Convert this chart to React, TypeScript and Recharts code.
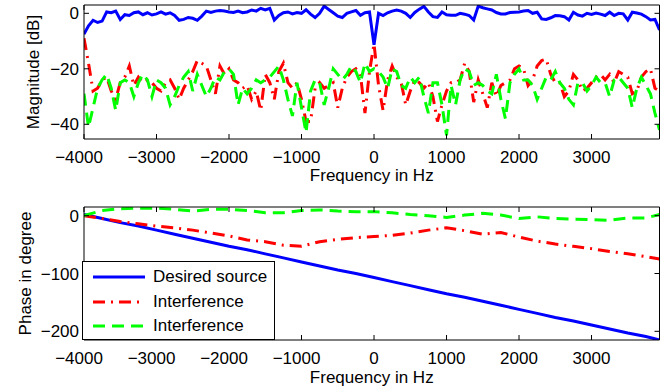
import { LineChart, Line, XAxis, YAxis, Legend } from 'recharts';

const FONT = '"Liberation Sans", Arial, Helvetica, sans-serif';

// FFT bins: 128 bins, fs = 8 kHz
const binStartHz = -4000;
const binStepHz = 62.5;

const magDesired = [
  -7.5, -4.5, -2.5, -3.3, -2.8, 0.5, 0.2, 0.8, -2.2, -0.5,
  -0.8, 0.2, 0.5, -0.5, 0.2, -0.6, -0.2, 0.5, -0.3, 0.2,
  -0.8, -2.5, -2.2, -1.5, -1.8, -2.5, -1.0, 0.8, 0.3, 0.8,
  1.0, 0.8, 0.5, 0.3, 0.8, 0.2, 0.5, 1.2, 0.8, 1.8,
  1.2, 1.8, -2.4, -0.8, 0.2, 0.5, -0.2, 0.3, 0.0, 1.3,
  -0.3, -1.5, 0.0, 2.6, 1.4, 0.2, -1.0, -1.5, 0.0, 0.5,
  1.0, -0.7, 0.2, 0.5, -11.3, 0.0, -0.8, 0.2, 0.8, 1.2,
  0.8, 0.0, -1.5, 0.3, 1.5, 2.5, 0.5, -1.2, -1.5, 0.5,
  -0.5, -0.7, -0.7, 0.0, -0.3, -0.8, -2.4, 2.6, 2.0, 1.6,
  1.2, 0.3, -0.2, -0.2, 0.3, 0.4, 0.5, 0.8, 1.0, 0.0,
  0.4, -2.0, -2.2, -1.6, -0.8, -0.9, -1.2, -2.4, 0.4, -0.6,
  -1.0, 0.0, -0.4, 0.1, -0.3, -0.8, 0.4, -0.8, 0.0, -0.2,
  -2.4, 0.4, 0.1, -0.3, -1.2, -2.4, -2.2, -6.0,
];

const magInterfA = [
  -9, -18, -28, -27, -24, -23, -28, -31, -25, -23,
  -19, -26, -23, -25, -24, -25, -27, -28, -25, -24,
  -27, -31, -27, -24, -21, -17, -18, -19, -24, -29,
  -19, -22, -20, -24, -25, -27, -26, -31, -28, -35,
  -22, -25, -31, -21, -18, -25, -27, -25, -31, -39,
  -39, -27, -25, -27, -26, -25, -34, -27, -23, -21,
  -20, -22, -36, -21, -11, -26, -35, -24, -19, -23,
  -25, -33, -28, -24, -25, -27, -25, -30, -39, -33,
  -28, -25, -25, -24, -18, -21, -32, -24, -29, -34,
  -25, -30, -26, -25, -24, -20, -19, -20, -26, -24,
  -19, -17, -16.5, -22, -25, -25, -30, -28, -22, -24,
  -28, -27, -25, -23, -22, -24, -22, -25, -21, -22,
  -23, -29, -28, -23, -21, -20, -27, -28,
];

const magInterfB = [
  -29, -41, -34, -27, -24, -22, -27, -35, -25, -24,
  -25, -30, -25, -22, -24, -30, -24, -25, -27, -33,
  -30, -26, -23, -21, -28, -22, -26, -30, -27, -23,
  -24, -21, -20, -22, -33, -27, -29, -27, -24, -25,
  -24, -23, -21, -19, -24, -31, -37, -25, -34, -43,
  -28, -24, -25, -33, -27, -20, -22, -24, -22, -19,
  -21, -25, -18, -21, -20, -21, -23, -27, -20, -21,
  -26, -27, -23, -25, -23, -30, -36, -25, -25, -33,
  -44, -26, -33, -24, -20, -21, -26, -25, -26, -28,
  -29, -22, -31, -38, -25, -22, -20, -24, -24, -26,
  -31, -27, -23, -24, -21, -25, -27, -31, -33, -25,
  -25, -28, -26, -23, -25, -25, -30, -24, -23, -25,
  -27, -34, -27, -23, -26, -29, -36, -42,
];

const phaseFreqs = [
  -4000, -3750, -3500, -3250, -3000, -2750, -2500, -2250, -2000, -1750, -1500,
  -1250, -1000, -750, -500, -250, 0, 250, 500, 750, 1000, 1250,
  1500, 1750, 2000, 2250, 2500, 2750, 3000, 3250, 3500, 3750, 3937.5,
];
const phaseDesired = [
  2, -5, -12, -18, -25, -32, -39, -46, -53, -59, -66,
  -73, -80, -87, -94, -100, -107, -114, -121, -128, -135, -141,
  -148, -155, -162, -169, -176, -182, -189, -196, -203, -209, -215,
];
const phaseInterfA = [
  0, -5, -10, -14, -18, -21, -25, -30, -35, -42, -45,
  -51, -53, -45, -41, -38, -36, -34, -30, -25, -21, -26,
  -32, -29, -37, -44, -49, -53, -57, -62, -66, -71, -75,
];
const phaseInterfB = [
  0, 9, 12, 13, 13, 11, 8, 11, 11, 9, 5,
  5, 9, 10, 8, 7, 7, 5, 2, 0, -3, 1,
  4, 1, -5, -2, -5, -6, -7, -8, -4, -4, 2,
];

const freqTicks = [-4000, -3000, -2000, -1000, 0, 1000, 2000, 3000];
const magTicks = [-40, -20, 0];
const phaseTicks = [-200, -100, 0];

const seriesNames = ['Desired source', 'Interference', 'Interference'];
const seriesColors = ['#0000ff', '#ff0000', '#00ff00'];
const seriesDash = [undefined, '12 6 2 6', '12 7'];

const magRows = magDesired.map((v, i) => ({
  f: binStartHz + i * binStepHz,
  desired: v,
  interfA: magInterfA[i],
  interfB: magInterfB[i],
}));

const phaseRows = phaseFreqs.map((f, i) => ({
  f,
  desired: phaseDesired[i],
  interfA: phaseInterfA[i],
  interfB: phaseInterfB[i],
}));

const fmt = (v: number) => (v < 0 ? '\u2212' + Math.abs(v) : String(v));
const blank = () => '';
const tickStyle = { fill: '#000', fontSize: 17, fontFamily: FONT };

// matlab centres the digits, so negative labels sit a bit to the left
function FreqTick(props: any) {
  const { x, y, payload } = props;
  const v = payload.value;
  return (
    <text x={x - (v < 0 ? 5 : 0)} y={y} dy="0.71em" textAnchor="middle" fontSize={17} fontFamily={FONT} fill="#000">
      {fmt(v)}
    </text>
  );
}

function YTitle(props: any) {
  const { viewBox, title, posX, fallbackY } = props;
  const cy = viewBox && viewBox.height ? viewBox.y + viewBox.height / 2 : fallbackY;
  return (
    <text
      x={posX}
      y={cy}
      transform={`rotate(-90 ${posX} ${cy})`}
      textAnchor="middle"
      dominantBaseline="central"
      fontSize={17}
      fontFamily={FONT}
      fill="#000"
    >
      {title}
    </text>
  );
}

function PhaseLegend() {
  return (
    <div
      style={{
        width: 193,
        height: 79,
        boxSizing: 'border-box',
        border: '1px solid #000',
        background: '#fff',
        position: 'relative',
        fontFamily: FONT,
      }}
    >
      {seriesNames.map((name, k) => (
        <div
          key={k}
          style={{ position: 'absolute', left: 0, top: 3 + k * 24.5, height: 24, display: 'flex', alignItems: 'center' }}
        >
          <svg width={70} height={24} style={{ display: 'block' }}>
            <line x1={10} x2={62} y1={12} y2={12} stroke={seriesColors[k]} strokeWidth={3} strokeDasharray={seriesDash[k]} />
          </svg>
          <span style={{ fontSize: 17, color: '#000', lineHeight: '24px' }}>{name}</span>
        </div>
      ))}
    </div>
  );
}

function renderLines() {
  return ['desired', 'interfA', 'interfB'].map((key, k) => (
    <Line
      key={key}
      dataKey={key}
      type="linear"
      stroke={seriesColors[k]}
      strokeWidth={3}
      strokeDasharray={seriesDash[k]}
      dot={false}
      activeDot={false}
      isAnimationActive={false}
    />
  ));
}

export default function App() {
  const axisLine = { stroke: '#000', strokeWidth: 1 };
  return (
    <div style={{ position: 'absolute', left: 0, top: 0, width: 667, height: 389, background: '#fff' }}>
      <LineChart width={667} height={195} data={magRows} margin={{ top: 4, right: 6.5, bottom: 0, left: 0 }}>
        <XAxis
          dataKey="f"
          type="number"
          domain={[-4000, 3937.5]}
          ticks={freqTicks}
          height={56}
          tickSize={-5}
          tickMargin={17}
          axisLine={axisLine}
          tickLine={axisLine}
          tick={<FreqTick />}
          allowDataOverflow
          label={{ value: 'Frequency in Hz', position: 'insideBottom', offset: 14, fill: '#000', fontSize: 17, fontFamily: FONT }}
        />
        <XAxis
          xAxisId="top"
          orientation="top"
          type="number"
          dataKey="f"
          domain={[-4000, 3937.5]}
          ticks={freqTicks}
          tickFormatter={blank}
          height={1}
          tickSize={-5}
          axisLine={axisLine}
          tickLine={axisLine}
          allowDataOverflow
        />
        <YAxis
          type="number"
          domain={[-45.3, 3]}
          ticks={magTicks}
          tickFormatter={fmt}
          width={84}
          tickSize={-5}
          tickMargin={10}
          axisLine={axisLine}
          tickLine={axisLine}
          tick={tickStyle}
          allowDataOverflow
          label={<YTitle title="Magnitude [dB]" posX={33} fallbackY={72} />}
        />
        <YAxis
          yAxisId="right"
          orientation="right"
          type="number"
          domain={[-45.3, 3]}
          ticks={magTicks}
          tickFormatter={blank}
          width={1}
          tickSize={-5}
          axisLine={axisLine}
          tickLine={axisLine}
          allowDataOverflow
        />
        {renderLines()}
      </LineChart>
      <LineChart width={667} height={194} data={phaseRows} margin={{ top: 11, right: 6.5, bottom: 0, left: 0 }}>
        <XAxis
          dataKey="f"
          type="number"
          domain={[-4000, 3937.5]}
          ticks={freqTicks}
          height={49}
          tickSize={-5}
          tickMargin={17}
          axisLine={axisLine}
          tickLine={axisLine}
          tick={<FreqTick />}
          allowDataOverflow
          label={{ value: 'Frequency in Hz', position: 'insideBottom', offset: 6, fill: '#000', fontSize: 17, fontFamily: FONT }}
        />
        <XAxis
          xAxisId="top"
          orientation="top"
          type="number"
          dataKey="f"
          domain={[-4000, 3937.5]}
          ticks={freqTicks}
          tickFormatter={blank}
          height={1}
          tickSize={-5}
          axisLine={axisLine}
          tickLine={axisLine}
          allowDataOverflow
        />
        <YAxis
          type="number"
          domain={[-215, 15]}
          ticks={phaseTicks}
          tickFormatter={fmt}
          width={84}
          tickSize={-5}
          tickMargin={10}
          axisLine={axisLine}
          tickLine={axisLine}
          tick={tickStyle}
          allowDataOverflow
          label={<YTitle title="Phase in degree" posX={25} fallbackY={78} />}
        />
        <YAxis
          yAxisId="right"
          orientation="right"
          type="number"
          domain={[-215, 15]}
          ticks={phaseTicks}
          tickFormatter={blank}
          width={1}
          tickSize={-5}
          axisLine={axisLine}
          tickLine={axisLine}
          allowDataOverflow
        />
        {renderLines()}
        <Legend
          content={<PhaseLegend />}
          layout="vertical"
          align="center"
          verticalAlign="middle"
          wrapperStyle={{ position: 'absolute', left: 82, top: 66, width: 193, height: 79 }}
        />
      </LineChart>
    </div>
  );
}
